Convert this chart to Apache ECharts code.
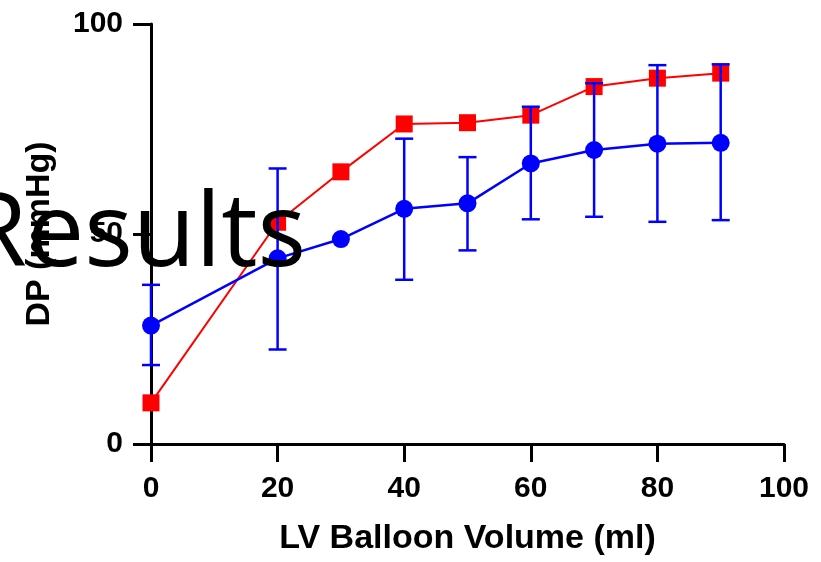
<!DOCTYPE html>
<html>
<head>
<meta charset="utf-8">
<style>
  html, body { margin: 0; padding: 0; background: #ffffff; }
  #chart { width: 821px; height: 562px; }
</style>
<script src="https://cdn.jsdelivr.net/npm/echarts@6/dist/echarts.min.js"></script>
</head>
<body>
<div id="chart"></div>
<script>
// Balloon volumes (ml)
const volumes = [0, 20, 30, 40, 50, 60, 70, 80, 90];
// Developed pressure, red series (mmHg)
const redDP = [9.8, 52.8, 64.8, 76.2, 76.5, 78.3, 85.1, 87.1, 88.3];
// Developed pressure, blue series (mmHg) with error bar limits
const blueDP = [28.2, 44.2, 48.8, 56.0, 57.3, 66.8, 70.0, 71.5, 71.7];
const blueUpper = [37.9, 65.6, null, 72.7, 68.3, 80.3, 85.9, 90.2, 90.4];
const blueLower = [18.8, 22.5, null, 39.1, 46.1, 53.5, 54.1, 52.9, 53.3];
// Axis ticks
const xTicks = [0, 20, 40, 60, 80, 100];
const yTicks = [0, 50, 100];

const labelFont = '"Liberation Sans", Arial, sans-serif';

const redData = volumes.map((v, i) => [v, redDP[i]]);
const blueData = volumes.map((v, i) => [v, blueDP[i]]);
const errData = volumes
  .map((v, i) => [v, blueLower[i], blueUpper[i]])
  .filter(d => d[1] != null && d[2] != null);

const chart = echarts.init(document.getElementById('chart'), null, { renderer: 'canvas' });

chart.setOption({
  animation: false,
  backgroundColor: '#ffffff',
  title: {
    text: 'Results',
    left: -36,
    top: 186,
    padding: 0,
    z: 10,
    textStyle: {
      fontFamily: '"Open Sans", "Noto Sans", sans-serif',
      fontWeight: 'normal',
      fontSize: 102,
      color: '#000000'
    }
  },
  grid: { left: 151, right: 37, top: 24, bottom: 118, containLabel: false },
  xAxis: {
    type: 'value',
    min: xTicks[0],
    max: xTicks[xTicks.length - 1],
    interval: xTicks[1] - xTicks[0],
    name: 'LV Balloon Volume (ml)',
    nameLocation: 'middle',
    nameGap: 78,
    nameTextStyle: { fontFamily: labelFont, fontWeight: 'bold', fontSize: 34, color: '#000' },
    axisLine: { show: true, onZero: false, lineStyle: { color: '#000', width: 3 } },
    axisTick: { show: true, length: 18, lineStyle: { color: '#000', width: 3 } },
    axisLabel: { margin: 30, fontFamily: labelFont, fontWeight: 'bold', fontSize: 30, color: '#000' },
    splitLine: { show: false }
  },
  yAxis: {
    type: 'value',
    min: yTicks[0],
    max: yTicks[yTicks.length - 1],
    interval: yTicks[1] - yTicks[0],
    name: 'DP (mmHg)',
    nameLocation: 'middle',
    nameGap: 94,
    nameTextStyle: { fontFamily: labelFont, fontWeight: 'bold', fontSize: 34, color: '#000' },
    axisLine: { show: true, onZero: false, lineStyle: { color: '#000', width: 3 } },
    axisTick: { show: true, length: 18, lineStyle: { color: '#000', width: 3 } },
    axisLabel: { margin: 28, fontFamily: labelFont, fontWeight: 'bold', fontSize: 30, color: '#000' },
    splitLine: { show: false }
  },
  series: [
    {
      type: 'line',
      data: redData,
      symbol: 'rect',
      symbolSize: 17,
      clip: false,
      itemStyle: { color: '#ff0000' },
      lineStyle: { color: '#ff0000', width: 2 },
      z: 2
    },
    {
      type: 'line',
      data: blueData,
      symbol: 'circle',
      symbolSize: 18,
      clip: false,
      itemStyle: { color: '#0000ff' },
      lineStyle: { color: '#0000ff', width: 2.5 },
      z: 3
    },
    {
      type: 'custom',
      data: errData,
      clip: false,
      z: 4,
      renderItem: function (params, api) {
        const x = api.value(0);
        const lo = api.coord([x, api.value(1)]);
        const hi = api.coord([x, api.value(2)]);
        const half = 9;
        const style = { stroke: '#0000ff', lineWidth: 2.5 };
        return {
          type: 'group',
          children: [
            { type: 'line', shape: { x1: lo[0], y1: lo[1], x2: hi[0], y2: hi[1] }, style: style },
            { type: 'line', shape: { x1: hi[0] - half, y1: hi[1], x2: hi[0] + half, y2: hi[1] }, style: style },
            { type: 'line', shape: { x1: lo[0] - half, y1: lo[1], x2: lo[0] + half, y2: lo[1] }, style: style }
          ]
        };
      }
    }
  ]
});
</script>
</body>
</html>
